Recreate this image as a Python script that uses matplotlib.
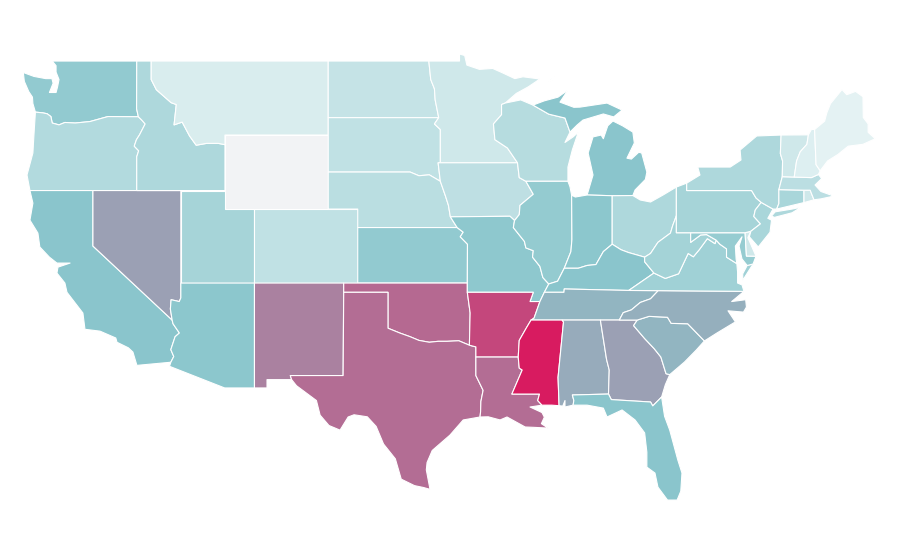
#!/usr/bin/env python3
"""Choropleth of the lower 48 states, outlines given as lon/lat rings."""

import matplotlib
matplotlib.use("Agg")
import matplotlib.pyplot as plt
from matplotlib.colors import LinearSegmentedColormap, Normalize

STATES = ["WA", "OR", "CA", "NV", "ID", "MT", "WY", "UT", "AZ", "CO", "NM", "ND",
          "SD", "NE", "KS", "OK", "TX", "MN", "IA", "MO", "AR", "LA", "WI", "IL",
          "MI", "IN", "OH", "KY", "TN", "MS", "AL", "GA", "FL", "SC", "NC", "VA",
          "WV", "MD", "DE", "PA", "NJ", "NY", "CT", "RI", "MA", "VT", "NH", "ME"]
VALUES = [46, 30, 50, 61, 32, 10.5, 0, 36, 49, 23, 70, 20,
          23, 26, 46, 77, 76, 15, 24, 48, 87, 76, 28, 45,
          50, 49, 32, 50, 55, 100, 58, 61, 50, 55, 57, 39,
          37, 44, 15, 36, 34, 32, 34, 15, 25, 15, 8, 5]

COLOR_STOPS = [(0.0, "#f2f3f5"), (0.05, "#e3f2f3"), (0.5, "#8ac6cc"), (1.0, "#d81b60")]

OUTLINES = {
    "WA": [[(-122.76, 49), (-117.03, 49), (-117.04, 46.42), (-116.92, 45.99), (-118.98, 46.0), (-119.3, 45.93),
            (-120.2, 45.73), (-121.2, 45.65), (-121.9, 45.68), (-122.3, 45.55), (-122.76, 45.65), (-122.85, 46.0),
            (-123.1, 46.15), (-123.4, 46.2), (-123.9, 46.24), (-124.07, 46.7), (-124.1, 47.05), (-124.35, 47.35),
            (-124.65, 47.9), (-124.72, 48.38), (-124.0, 48.17), (-123.2, 48.05), (-122.78, 48.05), (-122.7, 47.8),
            (-122.95, 47.3), (-122.5, 47.3), (-122.4, 47.6), (-122.3, 48.0), (-122.5, 48.4), (-122.5, 48.75)]],
    "OR": [[(-123.9, 46.24), (-123.4, 46.2), (-123.1, 46.15), (-122.85, 46.0), (-122.76, 45.65), (-122.3, 45.55),
            (-121.9, 45.68), (-121.2, 45.65), (-120.2, 45.73), (-119.3, 45.93), (-118.98, 46.0), (-116.92, 45.99),
            (-116.7, 45.82), (-116.46, 45.6), (-116.85, 45.0), (-117.05, 44.75), (-117.2, 44.4), (-116.9, 44.15),
            (-117.03, 43.83), (-117.03, 42), (-124.27, 42), (-124.47, 42.84), (-124.07, 44.03), (-124.0, 45.0)]],
    "CA": [[(-124.27, 42), (-120, 42), (-120, 39), (-114.63, 35.0), (-114.57, 34.8), (-114.14, 34.3), (-114.43, 34.1),
            (-114.72, 33.4), (-114.52, 33.03), (-114.72, 32.72), (-117.02, 32.55), (-117.29, 33.27), (-117.6, 33.5),
            (-118.37, 33.8), (-118.45, 34.03), (-119.52, 34.4), (-120.54, 34.5), (-120.68, 35.38), (-121.76, 36.5),
            (-121.9, 37.0), (-122.44, 37.54), (-122.37, 37.86), (-121.55, 38.08), (-122.44, 38.08), (-122.95, 38.4),
            (-123.6, 38.95), (-123.73, 39.7), (-124.27, 40.4), (-124.07, 41.32)]],
    "NV": [[(-120, 42), (-114.04, 42), (-114.04, 36.2), (-114.15, 36.0), (-114.7, 36.1), (-114.75, 35.6),
            (-114.63, 35.0), (-120, 39)]],
    "ID": [[(-117.03, 49), (-116.05, 49), (-116.05, 48), (-115.7, 47.45), (-114.7, 46.75), (-114.35, 46.65),
            (-114.5, 45.55), (-113.95, 45.7), (-113.45, 44.95), (-113.0, 44.45), (-112.3, 44.55), (-111.5, 44.55),
            (-111.05, 44.48), (-111.05, 42), (-117.03, 42), (-117.03, 43.83), (-116.9, 44.15), (-117.2, 44.4),
            (-117.05, 44.75), (-116.85, 45.0), (-116.46, 45.6), (-116.7, 45.82), (-116.92, 45.99), (-117.04, 46.42)]],
    "MT": [[(-116.05, 49), (-104.05, 49), (-104.05, 45), (-111.05, 45), (-111.05, 44.48), (-111.5, 44.55),
            (-112.3, 44.55), (-113.0, 44.45), (-113.45, 44.95), (-113.95, 45.7), (-114.5, 45.55), (-114.35, 46.65),
            (-114.7, 46.75), (-115.7, 47.45), (-116.05, 48)]],
    "WY": [[(-111.05, 45), (-104.05, 45), (-104.05, 41), (-111.05, 41)]],
    "UT": [[(-114.04, 42), (-111.05, 42), (-111.05, 41), (-109.05, 41), (-109.05, 37), (-114.04, 37)]],
    "AZ": [[(-114.04, 37), (-109.05, 37), (-109.05, 31.33), (-111.07, 31.33), (-114.81, 32.5), (-114.72, 32.72),
            (-114.52, 33.03), (-114.72, 33.4), (-114.43, 34.1), (-114.14, 34.3), (-114.57, 34.8), (-114.63, 35.0),
            (-114.75, 35.6), (-114.7, 36.1), (-114.15, 36.0), (-114.04, 36.2)]],
    "CO": [[(-109.05, 41), (-102.05, 41), (-102.05, 37), (-109.05, 37)]],
    "NM": [[(-109.05, 37), (-103, 37), (-103.04, 32), (-106.62, 32), (-106.53, 31.78), (-108.2, 31.78),
            (-108.2, 31.33), (-109.05, 31.33)]],
    "ND": [[(-104.05, 49), (-97.23, 49), (-97.1, 48.0), (-96.85, 47.5), (-96.8, 46.9), (-96.56, 45.94),
            (-104.05, 45.94)]],
    "SD": [[(-104.05, 45.94), (-96.56, 45.94), (-96.85, 45.6), (-96.45, 45.3), (-96.45, 43.5), (-96.6, 43.5),
            (-96.45, 42.5), (-97.2, 42.85), (-97.9, 42.8), (-98.5, 43.0), (-104.05, 43)]],
    "NE": [[(-104.05, 43), (-98.5, 43), (-97.9, 42.8), (-97.2, 42.85), (-96.45, 42.5), (-96.1, 41.7), (-95.9, 41.2),
            (-95.77, 40.58), (-95.31, 40), (-102.05, 40), (-102.05, 41), (-104.05, 41)]],
    "KS": [[(-102.05, 40), (-95.31, 40), (-94.9, 39.75), (-95.1, 39.5), (-94.61, 39.1), (-94.62, 37), (-102.05, 37)]],
    "OK": [[(-103, 37), (-94.62, 37), (-94.62, 36.5), (-94.43, 35.39), (-94.48, 33.64), (-95.2, 33.88), (-96.0, 33.85),
            (-96.6, 33.85), (-97.2, 33.8), (-97.9, 33.9), (-98.5, 34.1), (-99.2, 34.3), (-100, 34.56),
            (-100, 36.5), (-103, 36.5)]],
    "TX": [[(-103, 36.5), (-100, 36.5), (-100, 34.56), (-99.2, 34.3), (-98.5, 34.1), (-97.9, 33.9), (-97.2, 33.8),
            (-96.6, 33.85), (-96.0, 33.85), (-95.2, 33.88), (-94.48, 33.64), (-94.04, 33.55), (-94.04, 32),
            (-93.55, 31.2), (-93.7, 30.6), (-93.72, 30.05), (-93.76, 29.76), (-94.9, 29.6), (-95.8, 28.78),
            (-97.0, 27.95), (-97.35, 27.3), (-97.4, 26.9), (-97.15, 25.85), (-97.6, 25.95),
            (-98.2, 26.05), (-99.1, 26.4), (-99.5, 27.5), (-100.3, 28.3), (-100.8, 29.25), (-101.4, 29.77),
            (-102.3, 29.88), (-102.7, 29.76), (-103.25, 29.05), (-104.0, 29.3), (-104.6, 29.86), (-104.85, 30.65),
            (-106.2, 31.45), (-106.53, 31.78), (-106.62, 32), (-103.04, 32)]],
    "MN": [[(-97.23, 49), (-95.15, 49), (-95.15, 49.38), (-94.8, 49.3), (-94.65, 48.78), (-93.8, 48.55), (-92.9, 48.6),
            (-92.2, 48.35), (-91.4, 48.05), (-90.85, 48.15), (-89.7, 48.03), (-90.5, 47.6), (-91.3, 47.25), (-92.05, 46.73),
            (-92.3, 46.65), (-92.3, 46.1), (-92.85, 45.6), (-92.75, 44.75), (-91.9, 44.3), (-91.22, 43.5), (-96.45, 43.5),
            (-96.45, 45.3), (-96.85, 45.6), (-96.56, 45.94), (-96.8, 46.9), (-96.85, 47.5), (-97.1, 48.0)]],
    "IA": [[(-96.6, 43.5), (-91.22, 43.5), (-91.1, 42.7), (-90.65, 42.5), (-90.15, 41.8), (-91.05, 41.2), (-91.1, 40.7),
            (-91.42, 40.38), (-91.73, 40.61), (-95.77, 40.58), (-95.9, 41.2), (-96.1, 41.7), (-96.45, 42.5)]],
    "MO": [[(-95.77, 40.58), (-91.73, 40.61), (-91.42, 40.38), (-91.5, 40.0), (-90.75, 39.25), (-90.65, 38.9),
            (-90.15, 38.75), (-90.2, 38.4), (-89.7, 37.9), (-89.5, 37.3), (-89.1, 36.95), (-89.4, 36.5), (-89.7, 36.0),
            (-90.37, 36.0), (-90.15, 36.5), (-94.62, 36.5), (-94.62, 37), (-94.61, 39.1), (-95.1, 39.5), (-94.9, 39.75),
            (-95.31, 40)]],
    "AR": [[(-94.62, 36.5), (-90.15, 36.5), (-90.37, 36.0), (-89.7, 36.0), (-90.1, 35.1), (-90.3, 35), (-90.6, 34.6),
            (-91.1, 33.9), (-91.17, 33.0), (-94.04, 33.0), (-94.04, 33.55), (-94.48, 33.64), (-94.43, 35.39)]],
    "LA": [[(-94.04, 33.0), (-91.17, 33.0), (-91.1, 32.4), (-90.9, 32.3), (-91.6, 31.0), (-89.73, 31.0), (-89.85, 30.65),
            (-89.56, 30.4), (-90.37, 30.3), (-89.56, 30.0), (-89.4, 29.75), (-89.6, 29.4), (-89.15, 29.16), (-90.1, 29.2),
            (-90.7, 29.22), (-91.93, 29.76), (-92.4, 29.6), (-93.2, 29.77), (-93.76, 29.76), (-93.72, 30.05), (-93.7, 30.6),
            (-93.55, 31.2), (-94.04, 32)]],
    "WI": [[(-92.3, 46.65), (-92.05, 46.73), (-91.0, 46.9), (-90.17, 46.62), (-89.1, 46.13), (-88.0, 45.92), (-87.66, 45.16),
            (-88.0, 44.6), (-87.45, 44.9), (-87.1, 45.15), (-87.5, 44.2), (-87.8, 43.27), (-87.8, 42.5), (-90.65, 42.5),
            (-91.1, 42.7), (-91.22, 43.5), (-91.9, 44.3), (-92.75, 44.75), (-92.85, 45.6), (-92.3, 46.1)]],
    "IL": [[(-91.5, 40), (-91.42, 40.38), (-91.1, 40.7), (-91.05, 41.2), (-90.15, 41.8), (-90.65, 42.5), (-87.8, 42.5),
            (-87.66, 42.2), (-87.55, 41.75), (-87.53, 39.35), (-87.6, 38.7), (-88.05, 37.8), (-88.5, 37.1), (-89.1, 36.95),
            (-89.5, 37.3), (-89.7, 37.9), (-90.2, 38.4), (-90.15, 38.75), (-90.65, 38.9), (-90.75, 39.25)]],
    "MI": [[(-86.5, 41.76), (-84.8, 41.72), (-83.4, 41.73), (-83.25, 42.03), (-82.55, 42.6), (-82.45, 43.0), (-82.8, 44.03),
            (-83.0, 44.07), (-83.5, 43.7), (-83.8, 43.75), (-83.3, 44.57), (-83.4, 45.16), (-84.1, 45.5), (-84.75, 45.76),
            (-85.1, 45.5), (-85.4, 44.8), (-85.55, 45.0), (-86.1, 44.9), (-86.43, 44.03), (-86.1, 42.84)],
           [(-90.17, 46.62), (-89.4, 46.85), (-88.47, 47.05), (-87.8, 47.43), (-88.34, 46.78), (-87.4, 46.5),
            (-86.98, 46.51), (-85.15, 46.73), (-84.13, 46.35), (-84.7, 45.98), (-85.4, 46.14), (-86.78, 45.81),
            (-87.18, 45.54), (-87.66, 45.16), (-88.0, 45.92), (-89.1, 46.13)],
           [(-89.1, 47.9), (-88.7, 48.15), (-88.9, 47.95)]],
    "IN": [[(-87.55, 41.75), (-87.3, 41.65), (-86.5, 41.76), (-84.8, 41.72), (-84.8, 39.1), (-85.4, 38.7), (-85.9, 38.0),
            (-86.5, 37.95), (-87.1, 37.8), (-88.05, 37.8), (-87.6, 38.7), (-87.53, 39.35)]],
    "OH": [[(-84.8, 41.72), (-83.4, 41.73), (-82.9, 41.49), (-82.2, 41.38), (-81.35, 41.76), (-80.45, 42.19), (-80.45, 40.64),
            (-80.7, 40.1), (-80.85, 39.7), (-81.7, 39.2), (-82.2, 38.6), (-82.6, 38.4), (-83.7, 38.65), (-84.2, 38.8),
            (-84.8, 39.1)]],
    "KY": [[(-89.4, 36.5), (-89.1, 36.95), (-88.5, 37.1), (-88.05, 37.8), (-87.1, 37.8), (-86.5, 37.95), (-85.9, 38.0),
            (-85.4, 38.7), (-84.8, 39.1), (-84.2, 38.8), (-83.7, 38.65), (-82.6, 38.4), (-82.6, 38.15), (-81.97, 37.54),
            (-83.68, 36.6), (-88.05, 36.68), (-88.07, 36.5)]],
    "TN": [[(-90.1, 35.1), (-89.7, 36), (-89.4, 36.5), (-88.07, 36.5), (-88.05, 36.68), (-83.68, 36.6), (-81.68, 36.59),
            (-82.2, 36.15), (-82.9, 35.95), (-83.5, 35.55), (-84.05, 35.4), (-84.32, 35), (-85.6, 35), (-88.2, 35),
            (-90.3, 35)]],
    "MS": [[(-90.3, 35), (-88.2, 35), (-88.1, 34.9), (-88.47, 31.9), (-88.4, 30.37), (-88.9, 30.4), (-89.56, 30.4),
            (-89.85, 30.65), (-89.73, 31), (-91.6, 31), (-90.9, 32.3), (-91.1, 32.4), (-91.17, 33), (-91.1, 33.9),
            (-90.6, 34.6)]],
    "AL": [[(-88.2, 35), (-85.6, 35), (-85.18, 32.87), (-85.0, 32.3), (-85.05, 31.0), (-87.5, 30.95), (-87.4, 30.65),
            (-87.45, 30.4), (-88.0, 30.3), (-88.0, 30.65), (-88.15, 30.35), (-88.4, 30.37), (-88.47, 31.9), (-88.1, 34.9)]],
    "GA": [[(-85.6, 35), (-83.1, 35), (-83.35, 34.7), (-82.6, 34.0), (-81.95, 33.45), (-81.5, 33.0), (-81.15, 32.1),
            (-80.9, 32.05), (-81.2, 31.5), (-81.45, 30.84), (-82.05, 30.36), (-82.2, 30.57), (-84.86, 30.7), (-85.05, 31),
            (-85.0, 32.3), (-85.18, 32.87)]],
    "FL": [[(-87.5, 30.95), (-85.05, 31), (-84.86, 30.7), (-82.2, 30.57), (-82.05, 30.36), (-81.45, 30.84), (-81.25, 29.8),
            (-80.9, 29.05), (-80.35, 27.43), (-80.07, 26.73), (-80.15, 25.75), (-80.4, 25.27), (-81.05, 25.27), (-81.7, 25.97),
            (-81.9, 26.73), (-82.45, 27.05), (-82.45, 27.86), (-82.6, 28.9), (-83.25, 29.6), (-84.13, 30.14), (-85.15, 29.76),
            (-85.4, 30.24), (-86.5, 30.4), (-87.45, 30.4), (-87.4, 30.65)]],
    "SC": [[(-83.35, 34.7), (-83.1, 35), (-82.3, 35.2), (-81.05, 35.15), (-80.8, 34.82), (-79.68, 34.8), (-78.55, 33.87),
            (-79.1, 33.38), (-79.9, 32.73), (-80.9, 32.05), (-81.15, 32.1), (-81.5, 33), (-81.95, 33.45), (-82.6, 34.0)]],
    "NC": [[(-81.68, 36.59), (-75.87, 36.55), (-76.7, 36.0), (-75.75, 36.1), (-75.7, 35.7), (-75.9, 35.43), (-76.95, 35.5),
            (-76.45, 34.9), (-77.7, 34.3), (-78.55, 33.87), (-79.68, 34.8), (-80.8, 34.82), (-81.05, 35.15), (-82.3, 35.2),
            (-83.1, 35), (-84.32, 35), (-84.05, 35.4), (-83.5, 35.55), (-82.9, 35.95), (-82.2, 36.15)]],
    "VA": [[(-83.68, 36.6), (-81.97, 37.54), (-81.2, 37.25), (-80.3, 37.5), (-79.65, 38.6), (-79.3, 38.42), (-78.9, 38.8),
            (-78.35, 39.4), (-77.83, 39.13), (-77.75, 39.32), (-77.5, 39.1), (-77.05, 38.85), (-77.05, 38.4), (-76.35, 38.05),
            (-76.3, 37.6), (-76.3, 37.0), (-76.0, 36.9), (-75.87, 36.55), (-81.68, 36.59)],
           [(-75.65, 37.95), (-75.25, 38.03), (-75.95, 37.15), (-75.95, 37.5)]],
    "WV": [[(-80.45, 40.64), (-80.45, 39.72), (-79.48, 39.72), (-79.48, 39.2), (-78.8, 39.6), (-78.4, 39.62), (-77.75, 39.32),
            (-77.83, 39.13), (-78.35, 39.4), (-78.9, 38.8), (-79.3, 38.42), (-79.65, 38.6), (-80.3, 37.5), (-81.2, 37.25),
            (-81.97, 37.54), (-82.6, 38.15), (-82.6, 38.4), (-82.2, 38.6), (-81.7, 39.2), (-80.85, 39.7), (-80.7, 40.1)]],
    "MD": [[(-79.48, 39.72), (-75.79, 39.72), (-75.7, 38.46), (-75.05, 38.45), (-75.25, 38.03), (-75.65, 37.95), (-76.0, 38.3),
            (-76.2, 39.0), (-76.0, 39.5), (-76.45, 39.0), (-76.4, 38.3), (-76.35, 38.05), (-77.05, 38.4), (-77.05, 38.85),
            (-77.5, 39.1), (-77.75, 39.32), (-78.4, 39.62), (-78.8, 39.6), (-79.48, 39.2)]],
    "DE": [[(-75.79, 39.72), (-75.4, 39.8), (-75.6, 39.45), (-75.05, 38.45), (-75.7, 38.46)]],
    "PA": [[(-80.45, 42.19), (-79.75, 42.4), (-79.75, 42.0), (-75.35, 42.0), (-75.05, 41.6), (-74.7, 41.36), (-75.1, 40.95),
            (-75.2, 40.6), (-74.75, 40.2), (-75.4, 39.8), (-75.79, 39.72), (-80.45, 39.72), (-80.45, 40.64)]],
    "NJ": [[(-74.7, 41.36), (-73.9, 41.0), (-74.25, 40.5), (-74.0, 40.4), (-74.1, 39.75), (-74.9, 38.95), (-75.5, 39.5),
            (-75.4, 39.8), (-74.75, 40.2), (-75.2, 40.6), (-75.1, 40.95)]],
    "NY": [[(-79.75, 42.4), (-78.85, 42.84), (-79.0, 43.27), (-76.8, 43.27), (-76.07, 43.65), (-76.13, 44.19), (-75.0, 44.95),
            (-73.35, 45.0), (-73.4, 44.0), (-73.25, 43.6), (-73.27, 42.75), (-73.5, 42.05), (-73.5, 41.3), (-73.65, 41.0),
            (-73.9, 41.0), (-74.7, 41.36), (-75.05, 41.6), (-75.35, 42.0), (-79.75, 42.0)],
           [(-74.0, 40.62), (-73.75, 40.85), (-72.6, 41.0), (-72.0, 41.1), (-72.6, 40.8), (-73.8, 40.55)]],
    "CT": [[(-73.5, 42.05), (-71.8, 42.02), (-71.8, 41.35), (-73.65, 41.0), (-73.5, 41.3)]],
    "RI": [[(-71.8, 42.02), (-71.38, 42.02), (-71.12, 41.5), (-71.8, 41.35)]],
    "MA": [[(-73.5, 42.05), (-73.27, 42.75), (-72.46, 42.73), (-71.3, 42.7), (-70.82, 42.87), (-70.6, 42.65), (-71.05, 42.3),
            (-70.65, 41.95), (-70.05, 41.78), (-70.0, 42.05), (-69.95, 41.67), (-70.65, 41.55), (-71.12, 41.5),
            (-71.38, 42.02), (-71.8, 42.02)]],
    "VT": [[(-73.35, 45), (-71.5, 45.01), (-71.6, 44.5), (-72.05, 44.1), (-72.3, 43.6), (-72.46, 42.73), (-73.27, 42.75),
            (-73.25, 43.6), (-73.4, 44.0)]],
    "NH": [[(-71.5, 45.01), (-71.3, 45.3), (-71.08, 45.3), (-70.98, 43.4), (-70.7, 43.07), (-70.82, 42.87), (-71.3, 42.7),
            (-72.46, 42.73), (-72.3, 43.6), (-72.05, 44.1), (-71.6, 44.5)]],
    "ME": [[(-71.08, 45.3), (-70.4, 45.75), (-70.25, 46.2), (-70.0, 46.7), (-69.22, 47.46), (-68.9, 47.18), (-68.3, 47.36),
            (-67.8, 47.07), (-67.78, 45.95), (-67.45, 45.6), (-67.45, 45.15), (-66.97, 44.8), (-67.8, 44.5), (-68.8, 44.4),
            (-69.5, 43.95), (-70.2, 43.6), (-70.7, 43.07), (-70.98, 43.4)]],
}

cmap = LinearSegmentedColormap.from_list("burden", COLOR_STOPS)
norm = Normalize(0, 100)

fig = plt.figure(figsize=(9, 5.6), dpi=100)
ax = fig.add_axes([0, 0, 1, 1])
for state, value in zip(STATES, VALUES):
    for ring in OUTLINES[state]:
        lons, lats = zip(*ring)
        ax.fill(lons, lats, facecolor=cmap(norm(value)), edgecolor="white", linewidth=0.8, joinstyle="round")

# plate carree, the reference is 14.75 px per degree lon and 18.5 px per degree lat
ax.set_xlim(-126.30, -65.29)
ax.set_ylim(22.03, 52.30)
ax.axis("off")
fig.savefig("out.png", dpi=100, facecolor="white")
plt.close(fig)
